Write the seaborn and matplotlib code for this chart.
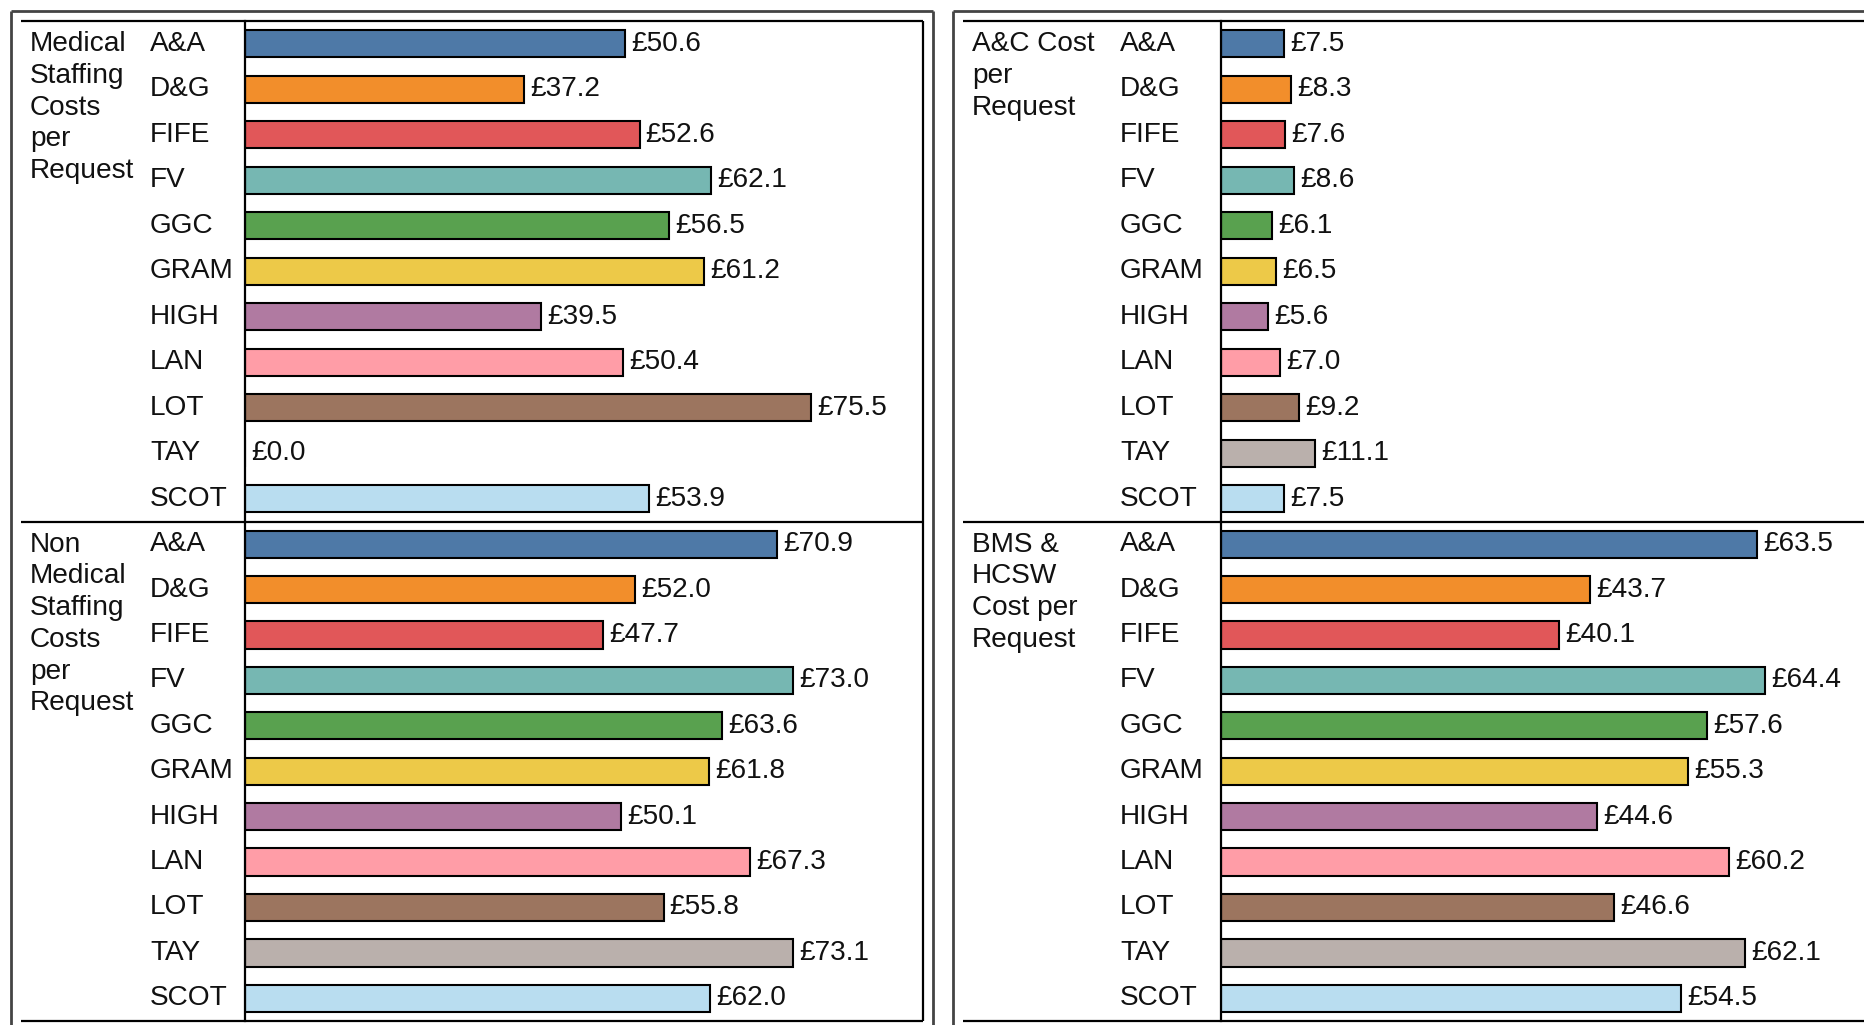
import matplotlib
matplotlib.use("Agg")
import matplotlib.pyplot as plt
from matplotlib.lines import Line2D
import seaborn as sns
import pandas as pd

sns.set_theme(style="white")
plt.rcParams["font.family"] = ["Liberation Sans", "DejaVu Sans"]

# Health boards and their colours
boards = ["A&A", "D&G", "FIFE", "FV", "GGC", "GRAM", "HIGH", "LAN", "LOT", "TAY", "SCOT"]
board_colours = ["#4e79a7", "#f28e2b", "#e15759", "#76b7b2", "#59a14f", "#edc948",
                 "#b07aa1", "#ff9da7", "#9c755f", "#bab0ac", "#b9ddf0"]

# Cost per request measures (GBP)
medical_staffing = [50.6, 37.2, 52.6, 62.1, 56.5, 61.2, 39.5, 50.4, 75.5, 0.0, 53.9]
non_medical_staffing = [70.9, 52.0, 47.7, 73.0, 63.6, 61.8, 50.1, 67.3, 55.8, 73.1, 62.0]
ac_cost = [7.5, 8.3, 7.6, 8.6, 6.1, 6.5, 5.6, 7.0, 9.2, 11.1, 7.5]
bms_hcsw_cost = [63.5, 43.7, 40.1, 64.4, 57.6, 55.3, 44.6, 60.2, 46.6, 62.1, 54.5]

measure_titles = [
    "Medical\nStaffing\nCosts\nper\nRequest",
    "Non\nMedical\nStaffing\nCosts\nper\nRequest",
    "A&C Cost\nper\nRequest",
    "BMS &\nHCSW\nCost per\nRequest",
]

W, H = 1865, 1025
FS = 20.2
fig = plt.figure(figsize=(W / 100, H / 100), dpi=100)


def fx(x):
    return x / W


def fy(y):
    return 1 - y / H


def hline(x0, x1, y, color="black", lw=1.6):
    fig.add_artist(Line2D([fx(x0), fx(x1)], [fy(y), fy(y)], color=color, lw=lw,
                          transform=fig.transFigure, solid_capstyle="butt"))


def vline(x, y0, y1, color="black", lw=1.6):
    fig.add_artist(Line2D([fx(x), fx(x)], [fy(y0), fy(y1)], color=color, lw=lw,
                          transform=fig.transFigure, solid_capstyle="butt"))


ROW_TOP, ROW_MID, ROW_BOT = 21, 521.5, 1021

panels = [
    # (values, title, axis x, right edge, px per unit, top, bottom, title x, label x)
    (medical_staffing, measure_titles[0], 245, 923, 7.5, ROW_TOP, ROW_MID, 30, 150),
    (non_medical_staffing, measure_titles[1], 245, 923, 7.5, ROW_MID, ROW_BOT, 30, 150),
    (ac_cost, measure_titles[2], 1221, W, 8.44, ROW_TOP, ROW_MID, 972, 1120),
    (bms_hcsw_cost, measure_titles[3], 1221, W, 8.44, ROW_MID, ROW_BOT, 972, 1120),
]

for values, title, ax_x, right, scale, top, bot, tx, lx in panels:
    ax = fig.add_axes([fx(ax_x), fy(bot), (right - ax_x) / W, (bot - top) / H])
    df = pd.DataFrame({"board": boards, "cost": values})
    sns.barplot(data=df, x="cost", y="board", hue="board", palette=board_colours,
                orient="h", width=0.6, saturation=1, edgecolor="black", linewidth=1.5,
                legend=False, ax=ax)
    ax.set_xlim(0, (right - ax_x) / scale)
    ax.set_ylim(len(boards) - 0.5, -0.5)
    ax.set_xlabel("")
    ax.set_ylabel("")
    ax.set_xticks([])
    for side in ["top", "right", "bottom"]:
        ax.spines[side].set_visible(False)
    ax.spines["left"].set_color("black")
    ax.spines["left"].set_linewidth(1.6)
    ax.patch.set_alpha(0)
    pad_pt = (ax_x - lx) * 72 / 100
    ax.tick_params(axis="y", length=0, pad=pad_pt, labelsize=FS, labelcolor="#111111")
    for lbl in ax.get_yticklabels():
        lbl.set_horizontalalignment("left")
        lbl.set_verticalalignment("center")
    for i, v in enumerate(values):
        ax.annotate(f"£{v:.1f}", xy=(v, i), xytext=(4.5, 0), textcoords="offset points",
                    ha="left", va="center", fontsize=FS, color="#111111")
    fig.text(fx(tx), fy(top + 10), title, ha="left", va="top", fontsize=FS,
             color="#111111", linespacing=1.29)

# Panel frames
# left panel: outer and inner boxes
vline(11, 11, H + 5, color="#444444", lw=2)
vline(933, 11, H + 5, color="#444444", lw=2)
hline(11, 933, 11, color="#444444", lw=2)
hline(21, 923, ROW_TOP)
hline(21, 923, ROW_MID)
hline(21, 923, ROW_BOT)
vline(923, ROW_TOP, ROW_BOT)
# right panel
vline(953, 11, H + 5, color="#444444", lw=2)
hline(953, W + 5, 11, color="#444444", lw=2)
hline(963, W + 5, ROW_TOP)
hline(963, W + 5, ROW_MID)
hline(963, W + 5, ROW_BOT)

fig.savefig("out.png", dpi=100, facecolor="white")
